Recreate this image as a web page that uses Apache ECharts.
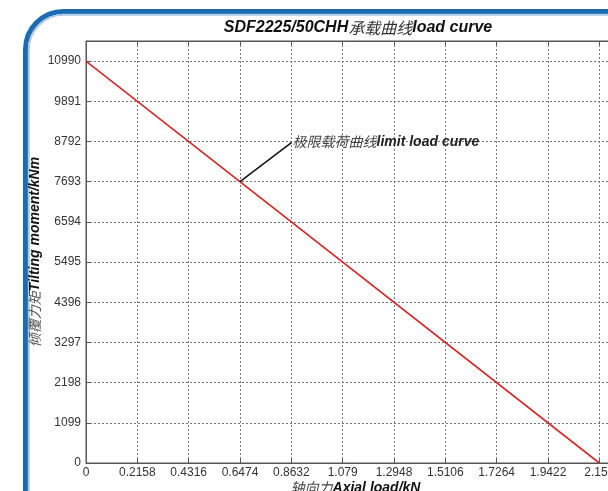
<!DOCTYPE html>
<html>
<head>
<meta charset="utf-8">
<script src="https://cdn.jsdelivr.net/npm/echarts@6/dist/echarts.min.js"></script>
<style>
html,body{margin:0;padding:0;background:#fff;}
#chart{width:608px;height:491px;}
</style>
</head>
<body>
<div id="chart"></div>
<script>
// ---- data ----
const xTickLabels = ['0','0.2158','0.4316','0.6474','0.8632','1.079','1.2948','1.5106','1.7264','1.9422','2.158'];
const yTickLabels = ['0','1099','2198','3297','4396','5495','6594','7693','8792','9891','10990'];
const axialLoad = [0, 2.158];          // kN
const tiltingMoment = [10990, 0];      // kNm
const annotationPoint = [0.6474, 7693];
const annotationTextAnchor = [0.865, 8770];
const titleCn = '承载曲线';
const titleEn = 'load curve';
const titleModel = 'SDF2225/50CHH';
const xNameCn = '轴向力', xNameEn = 'Axial load/kN';
const yNameCn = '倾覆力矩', yNameEn = 'Tilting moment/kNm';
const annCn = '极限载荷曲线', annEn = 'limit load curve';

const xInterval = 0.2158, yInterval = 1099;
const xMax = 2.2659, yMax = 11539.5;

const chart = echarts.init(document.getElementById('chart'), null, {renderer: 'canvas'});
const EN = 'Liberation Sans, Arial, sans-serif';
const CN = 'Noto Sans CJK SC';

const gridLine = {show: true, lineStyle: {color: '#777', type: [2, 2], width: 1}};

chart.setOption({
  backgroundColor: '#fff',
  animation: false,
  graphic: [
    {type: 'rect', z: -1, shape: {x: 25.5, y: 11.5, width: 800, height: 700, r: 38},
     style: {fill: 'none', stroke: '#1c6bb0', lineWidth: 5}},
    {type: 'rect', z: -1, shape: {x: 28.8, y: 14.8, width: 800, height: 700, r: 35},
     style: {fill: 'none', stroke: '#a9cbea', lineWidth: 2}}
  ],
  title: {
    text: '{en|' + titleModel + '}{cn|' + titleCn + '}{en|' + titleEn + '}',
    left: 353, top: 15, textAlign: 'center',
    textStyle: {
      rich: {
        en: {fontFamily: EN, fontSize: 16, fontWeight: 'bold', fontStyle: 'italic', color: '#111'},
        cn: {fontFamily: CN, fontSize: 16, fontWeight: 'normal', fontStyle: 'italic', color: '#333'}
      }
    }
  },
  grid: {left: 86, top: 41, height: 422, width: 539, outerBoundsMode: 'none', containLabel: false,
         show: true, borderColor: '#555', borderWidth: 1, backgroundColor: 'transparent'},
  xAxis: [{
    type: 'value', min: 0, max: xMax, interval: xInterval,
    axisLine: {show: true, lineStyle: {color: '#555'}},
    axisTick: {show: true, inside: true, length: 4, lineStyle: {color: '#555'}},
    splitLine: gridLine,
    axisLabel: {
      margin: 4, fontFamily: EN, fontSize: 12, color: '#333',
      formatter: (v, i) => (i < xTickLabels.length ? xTickLabels[i] : '')
    },
    name: '{cn|' + xNameCn + '}{en|' + xNameEn + '}',
    nameLocation: 'middle', nameGap: 18, nameMoveOverlap: false,
    nameTextStyle: {
      rich: {
        en: {fontFamily: EN, fontSize: 14, fontWeight: 'bold', fontStyle: 'italic', color: '#111'},
        cn: {fontFamily: CN, fontSize: 14, fontStyle: 'italic', color: '#444'}
      }
    }
  }, {
    type: 'value', position: 'top', min: 0, max: xMax, interval: xInterval,
    axisLine: {show: true, lineStyle: {color: '#555'}},
    axisTick: {show: true, inside: true, length: 4, lineStyle: {color: '#555'}},
    axisLabel: {show: false}, splitLine: {show: false}
  }],
  yAxis: {
    type: 'value', min: 0, max: yMax, interval: yInterval,
    axisLine: {show: true, lineStyle: {color: '#555'}},
    axisTick: {show: true, inside: true, length: 4, lineStyle: {color: '#555'}},
    splitLine: gridLine,
    axisLabel: {
      margin: 5, fontFamily: EN, fontSize: 12, color: '#333',
      formatter: (v, i) => (i < yTickLabels.length ? yTickLabels[i] : '')
    },
    name: '{cn|' + yNameCn + '}{en|' + yNameEn + '}',
    nameLocation: 'middle', nameGap: 44, nameMoveOverlap: false,
    nameTextStyle: {
      rich: {
        en: {fontFamily: EN, fontSize: 14, fontWeight: 'bold', fontStyle: 'italic', color: '#111'},
        cn: {fontFamily: CN, fontSize: 14, fontStyle: 'italic', color: '#555'}
      }
    }
  },
  series: [{
    type: 'line',
    data: axialLoad.map((x, i) => [x, tiltingMoment[i]]),
    showSymbol: false, symbol: 'none',
    lineStyle: {color: '#d92727', width: 1.6},
    markLine: {
      silent: true, symbol: ['none', 'none'],
      lineStyle: {color: '#111', width: 1.5, type: 'solid'},
      label: {
        show: true, position: 'end', distance: 1, align: 'left', verticalAlign: 'middle',
        formatter: '{cn|' + annCn + '}{en|' + annEn + '}',
        rich: {
          en: {fontFamily: EN, fontSize: 14, fontWeight: 'bold', fontStyle: 'italic', color: '#222'},
          cn: {fontFamily: CN, fontSize: 14, fontStyle: 'italic', color: '#444'}
        }
      },
      data: [[{coord: annotationPoint}, {coord: annotationTextAnchor}]]
    }
  }]
});
</script>
</body>
</html>
